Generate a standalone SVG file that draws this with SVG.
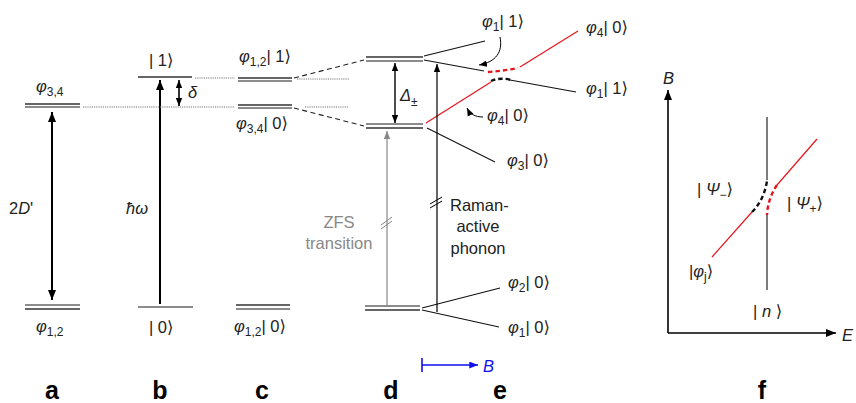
<svg xmlns="http://www.w3.org/2000/svg" width="856" height="403" viewBox="0 0 856 403">
<style>
text{font-family:"Liberation Sans","DejaVu Sans",sans-serif;font-size:16.5px;fill:#222}
.it{font-style:italic}
.sub{font-size:12px}
.lbl{font-size:25px;font-weight:bold;fill:#000}
.lv{stroke:#333;stroke-width:1.4;fill:none}
.lvg{stroke:#666;stroke-width:1.4;fill:none}
.dot{stroke:#777;stroke-width:1;stroke-dasharray:1.2,1;fill:none}
.dash{stroke:#222;stroke-width:1.1;stroke-dasharray:5,3.5;fill:none}
.ln{stroke:#111;stroke-width:1.1;fill:none}
.red{stroke:#e8141c;stroke-width:1.2;fill:none}
.arr{stroke:#000;stroke-width:2;fill:none}
</style>
<defs>
<marker id="ah" viewBox="0 0 10 8" refX="10" refY="4" markerWidth="10" markerHeight="8" markerUnits="userSpaceOnUse" orient="auto-start-reverse"><path d="M0,0 L10,4 L0,8 z" fill="#000"/></marker>
<marker id="ahs" viewBox="0 0 10 8" refX="10" refY="4" markerWidth="8" markerHeight="7" markerUnits="userSpaceOnUse" orient="auto-start-reverse"><path d="M0,0 L10,4 L0,8 z" fill="#000"/></marker>
<marker id="ahg" viewBox="0 0 10 8" refX="10" refY="4" markerWidth="8" markerHeight="7" markerUnits="userSpaceOnUse" orient="auto"><path d="M0,0 L10,4 L0,8 z" fill="#888"/></marker>
<marker id="ahb" viewBox="0 0 10 8" refX="10" refY="4" markerWidth="10" markerHeight="7" markerUnits="userSpaceOnUse" orient="auto"><path d="M0,0 L10,4 L0,8 z" fill="#1010ee"/></marker>
</defs>

<!-- panel a -->
<g id="a-upper"><path class="lv" d="M25,104H80"/><path class="lvg" d="M25,107H80"/>
<text x="36" y="92"><tspan class="it">φ</tspan><tspan class="sub" dy="4">3,4</tspan></text></g>
<g id="a-lower"><path class="lvg" d="M25,305H80"/><path class="lv" d="M25,309H80"/>
<text x="36" y="332"><tspan class="it">φ</tspan><tspan class="sub" dy="4">1,2</tspan></text></g>
<g id="a-arrow"><path class="arr" d="M52,112V300" marker-start="url(#ah)" marker-end="url(#ah)"/>
<text x="9" y="214">2<tspan class="it">D</tspan>'</text></g>

<!-- panel b -->
<g id="b-upper"><path class="lv" d="M138,77H192"/><text x="149" y="66">| 1⟩</text></g>
<g id="b-lower"><path class="lvg" d="M138,307H193"/><text x="149" y="333">| 0⟩</text></g>
<g id="b-arrows"><path class="arr" d="M160,304V80" marker-end="url(#ah)"/>
<text x="126" y="214" class="it">ħω</text>
<path d="M179,80V106" stroke="#000" stroke-width="1.6" marker-start="url(#ahs)" marker-end="url(#ahs)"/>
<text x="188" y="98" class="it">δ</text></g>

<!-- panel c -->
<g id="c-upper"><path class="lv" d="M238,78H292"/><path class="lvg" d="M238,81H292"/>
<text x="239" y="62"><tspan class="it">φ</tspan><tspan class="sub" dy="4">1,2</tspan><tspan dy="-4">| 1⟩</tspan></text></g>
<g id="c-mid"><path class="lv" d="M238,105H292"/><path class="lvg" d="M238,108H292"/>
<text x="236" y="129"><tspan class="it">φ</tspan><tspan class="sub" dy="4">3,4</tspan><tspan dy="-4">| 0⟩</tspan></text></g>
<g id="c-lower"><path class="lv" d="M236,305H290"/><path class="lvg" d="M236,309H290"/>
<text x="234" y="332"><tspan class="it">φ</tspan><tspan class="sub" dy="4">1,2</tspan><tspan dy="-4">| 0⟩</tspan></text></g>

<!-- panel d -->
<g id="d-upper"><path class="lv" d="M366,57H423"/><path class="lvg" d="M366,61H423"/></g>
<g id="d-mid"><path class="lvg" d="M366,124H423"/><path class="lv" d="M366,128H423"/></g>
<g id="d-lower"><path class="lvg" d="M365,306H420"/><path class="lv" d="M365,310H420"/></g>
<g id="d-delta"><path d="M395,63V123" stroke="#000" stroke-width="1.4" marker-start="url(#ahs)" marker-end="url(#ahs)"/>
<text x="400" y="101" class="it">Δ<tspan class="sub" dy="5" font-style="normal">±</tspan></text></g>

<!-- connectors -->
<g id="connectors">
<path class="dot" d="M83,107H235M195,78H235M297,79H349M305,107H349"/>
<path class="dash" d="M294,78L364,60M294,108L364,126"/>
<path class="ln" d="M424,56L485,41M424,60L484,71M427,128L495,162M422,308L500,288M422,310L499,327"/>
<path class="ln" d="M510,80L576,92"/>
<path class="red" d="M426,123L491,82M520,67L578,31"/>
<path d="M488,72Q503,71 518,68" stroke="#e8141c" stroke-width="2.4" stroke-dasharray="4.5,3" fill="none"/>
<path d="M491,81Q500,77 511,80" stroke="#111" stroke-width="2.4" stroke-dasharray="4.5,3" fill="none"/>
<path d="M500,37C503,52 496,62 479,65" stroke="#000" stroke-width="1" fill="none" marker-end="url(#ahs)"/>
<path d="M483,117C475,117 470,114 467,108" stroke="#000" stroke-width="1" fill="none" marker-end="url(#ahs)"/>
<path d="M387,306V131" stroke="#888" stroke-width="1.2" fill="none" marker-end="url(#ahg)"/>
<path d="M437,312V64" stroke="#000" stroke-width="1.2" fill="none" marker-end="url(#ahs)"/>
<path d="M381,225L392,217M381,229L392,221" stroke="#888" stroke-width="1"/>
<path d="M430,204L442,197M430,208L442,201" stroke="#000" stroke-width="1"/>
<path d="M422,358V372M422,365H478" stroke="#1010ee" stroke-width="1.6" fill="none"/>
<path d="M422,365H478" stroke="none" fill="none" marker-end="url(#ahb)"/>
</g>

<!-- panel e labels -->
<g id="e-labels">
<text x="482" y="27"><tspan class="it">φ</tspan><tspan class="sub" dy="4">1</tspan><tspan dy="-4">| 1⟩</tspan></text>
<text x="586" y="33"><tspan class="it">φ</tspan><tspan class="sub" dy="4">4</tspan><tspan dy="-4">| 0⟩</tspan></text>
<text x="586" y="94"><tspan class="it">φ</tspan><tspan class="sub" dy="4">1</tspan><tspan dy="-4">| 1⟩</tspan></text>
<text x="487" y="121"><tspan class="it">φ</tspan><tspan class="sub" dy="4">4</tspan><tspan dy="-4">| 0⟩</tspan></text>
<text x="507" y="166"><tspan class="it">φ</tspan><tspan class="sub" dy="4">3</tspan><tspan dy="-4">| 0⟩</tspan></text>
<text x="508" y="288"><tspan class="it">φ</tspan><tspan class="sub" dy="4">2</tspan><tspan dy="-4">| 0⟩</tspan></text>
<text x="508" y="333"><tspan class="it">φ</tspan><tspan class="sub" dy="4">1</tspan><tspan dy="-4">| 0⟩</tspan></text>
<text x="339" y="228" text-anchor="middle" style="fill:#888">ZFS</text>
<text x="339" y="249" text-anchor="middle" style="fill:#888">transition</text>
<text x="450" y="211">Raman-</text>
<text x="478" y="232" text-anchor="middle">active</text>
<text x="478" y="254" text-anchor="middle">phonon</text>
<text x="483" y="372" class="it" style="fill:#1010ee">B</text>
</g>

<!-- panel f -->
<g id="f-axes">
<path d="M668,333V90" stroke="#000" stroke-width="1.6" fill="none" marker-end="url(#ah)"/>
<path d="M668,333H836" stroke="#000" stroke-width="1.6" fill="none" marker-end="url(#ah)"/>
<text x="663" y="84" class="it">B</text>
<text x="842" y="341" class="it">E</text>
</g>
<g id="f-curves">
<path class="ln" d="M767,117V180M767,215V290"/>
<path class="red" d="M712,257L752,212M777,185L817,139"/>
<path d="M752,212Q764,200 767,181" stroke="#111" stroke-width="2.4" stroke-dasharray="4.5,3" fill="none"/>
<path d="M777,185Q768,198 767,215" stroke="#e8141c" stroke-width="2.4" stroke-dasharray="4.5,3" fill="none"/>
<text x="697" y="195">|<tspan class="it"> Ψ</tspan><tspan class="sub" dy="4">−</tspan><tspan dy="-4">⟩</tspan></text>
<text x="787" y="209">|<tspan class="it"> Ψ</tspan><tspan class="sub" dy="4">+</tspan><tspan dy="-4">⟩</tspan></text>
<text x="689" y="277">|<tspan class="it">φ</tspan><tspan class="sub" dy="4">j</tspan><tspan dy="-4">⟩</tspan></text>
<text x="753" y="317">| <tspan class="it">n</tspan> ⟩</text>
</g>

<!-- panel letters -->
<g id="letters">
<text class="lbl" x="52" y="399" text-anchor="middle">a</text>
<text class="lbl" x="160" y="399" text-anchor="middle">b</text>
<text class="lbl" x="262" y="399" text-anchor="middle">c</text>
<text class="lbl" x="391" y="399" text-anchor="middle">d</text>
<text class="lbl" x="500" y="399" text-anchor="middle">e</text>
<text class="lbl" x="762" y="399" text-anchor="middle">f</text>
</g>
</svg>
